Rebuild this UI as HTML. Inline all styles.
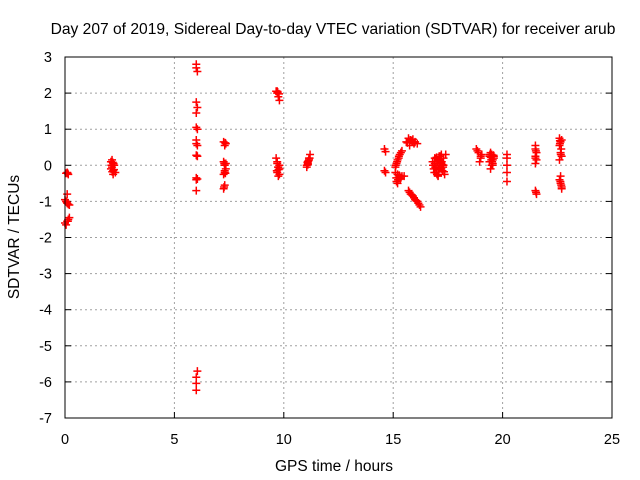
<!DOCTYPE html>
<html><head><meta charset="utf-8"><style>
html,body{margin:0;padding:0;background:#fff}
svg{display:block;font-family:"Liberation Sans",sans-serif}
</style></head><body>
<svg id="c" width="640" height="480" viewBox="0 0 640 480">
<text x="333" y="34" font-size="15.6" text-anchor="middle" fill="#000">Day 207 of 2019, Sidereal Day-to-day VTEC variation (SDTVAR) for receiver arub</text>
<text x="334" y="471" font-size="15.5" text-anchor="middle">GPS time / hours</text>
<text transform="translate(19,237) rotate(-90)" font-size="15.5" text-anchor="middle">SDTVAR / TECUs</text>
<g id="grid"></g><g id="ticks"></g><g id="pts"></g>
<rect x="65" y="57" width="547" height="361" fill="none" stroke="#000" stroke-width="1"/>
</svg>
<script>
const xTicks=[0,5,10,15,20,25];
const yTicks=[3,2,1,0,-1,-2,-3,-4,-5,-6,-7];
const hours=[0.05,0.1,0.15,0.1,0.0,0.05,0.1,0.15,0.2,0.0,0.05,0.1,0.15,0.2,0.12,0.08,0.13,
2.1,2.15,2.2,2.25,2.15,2.2,2.3,2.1,2.2,2.12,2.18,2.24,2.16,2.22,
6.0,6.0,6.05,6.0,6.05,6.0,6.0,6.05,6.0,6.0,6.05,6.0,6.05,6.0,6.0,6.0,6.05,6.0,6.0,6.0,6.05,6.02,
7.25,7.3,7.35,7.25,7.3,7.35,7.3,7.25,7.35,7.3,7.25,7.32,7.28,7.3,7.27,7.33,
9.65,9.7,9.75,9.8,9.7,9.65,9.7,9.75,9.8,9.7,9.75,9.8,9.72,9.78,9.68,9.74,9.8,9.7,9.76,
11.05,11.1,11.15,11.2,11.1,11.15,11.05,11.08,11.12,11.18,11.1,
14.6,14.65,14.6,14.65,
15.1,15.15,15.2,15.25,15.3,15.35,15.4,15.2,15.25,15.3,15.15,15.1,15.2,15.35,15.4,15.5,15.12,15.18,15.22,15.28,15.14,15.26,15.32,
15.6,15.7,15.8,15.9,16.0,16.1,15.75,15.85,15.95,15.65,15.78,15.88,15.98,
15.7,15.8,15.9,16.0,16.1,16.2,16.25,15.75,15.85,15.95,16.05,16.15,
16.8,16.9,17.0,17.1,17.2,17.3,17.4,16.85,16.95,17.05,17.15,17.25,17.35,16.9,17.0,17.1,17.2,17.3,17.0,17.1,17.2,16.82,16.92,17.02,17.12,17.22,17.32,16.88,16.98,17.08,17.18,17.28,16.95,17.05,17.15,17.25,
18.8,18.9,19.0,18.95,19.05,18.85,19.0,
19.4,19.45,19.5,19.55,19.6,19.5,19.45,19.55,19.4,19.6,19.42,19.48,19.52,19.58,19.46,19.54,
20.2,20.2,20.2,20.2,20.2,
21.5,21.5,21.55,21.5,21.55,21.5,21.5,21.55,21.52,21.5,21.53,
22.6,22.65,22.7,22.6,22.65,22.7,22.6,22.65,22.6,22.65,22.7,22.7,22.62,22.68,22.64,22.66,22.62,22.68];
const values=[-0.22,-0.2,-0.25,-0.8,-0.95,-1.0,-1.05,-1.08,-1.1,-1.6,-1.65,-1.55,-1.5,-1.45,-0.22,-1.02,-1.55,
0.1,0.15,0.05,0.0,-0.05,-0.15,-0.2,-0.1,-0.25,0.0,0.08,-0.12,-0.18,0.05,
2.8,2.7,2.6,1.75,1.6,1.45,1.05,1.0,0.7,0.6,0.55,0.28,0.25,-0.35,-0.4,-0.7,-5.7,-5.87,-6.04,-6.23,-0.38,0.27,
0.65,0.55,0.6,0.1,0.0,-0.1,-0.2,-0.25,0.05,-0.55,-0.65,0.62,0.05,-0.15,-0.6,-0.22,
2.05,2.0,1.9,1.8,2.05,0.2,0.1,-0.05,-0.1,-0.2,-0.3,0.0,2.03,1.98,-0.15,-0.05,-0.25,0.05,-0.12,
0.0,0.1,0.2,0.3,0.05,0.15,-0.05,0.08,0.12,0.2,0.02,
0.45,0.38,-0.15,-0.2,
-0.05,0.05,0.15,0.2,0.3,0.35,0.4,-0.25,-0.35,-0.3,-0.45,-0.2,-0.5,-0.35,-0.3,-0.3,0.0,0.1,-0.4,-0.28,-0.35,0.25,-0.38,
0.65,0.75,0.7,0.72,0.65,0.6,0.55,0.68,0.6,0.62,0.7,0.65,0.63,
-0.7,-0.8,-0.85,-0.95,-1.0,-1.1,-1.15,-0.75,-0.82,-0.9,-0.98,-1.05,
0.1,0.2,0.0,0.25,0.05,0.2,0.3,-0.1,-0.2,-0.3,0.1,-0.15,-0.25,0.05,-0.05,0.15,-0.1,0.0,-0.25,0.15,0.3,0.0,-0.05,0.12,-0.08,0.1,-0.18,-0.2,0.22,-0.12,0.08,-0.05,0.18,-0.28,0.25,0.02,
0.45,0.35,0.2,0.1,0.3,0.4,0.25,
0.25,0.35,0.3,0.15,0.25,0.0,-0.1,0.05,0.1,0.2,0.3,0.15,0.1,0.28,0.22,0.0,
0.3,0.2,0.0,-0.2,-0.45,
0.55,0.45,0.35,0.25,0.15,0.05,-0.7,-0.8,0.4,0.2,-0.75,
0.75,0.65,0.7,0.55,0.35,0.25,0.15,-0.3,-0.4,-0.5,-0.6,-0.65,0.6,0.45,-0.45,0.3,0.68,-0.55];
const NS='http://www.w3.org/2000/svg';
const X0=65,X1=612,Y0=418,Y1=57;
function sx(h){return X0+(h-0)/(25-0)*(X1-X0);}
function sy(v){return Y0-(v-(-7))/(3-(-7))*(Y0-Y1);}
function mk(tag,attrs,parent){const e=document.createElementNS(NS,tag);for(const k in attrs)e.setAttribute(k,attrs[k]);parent.appendChild(e);return e;}
const grid=document.getElementById('grid'),ticks=document.getElementById('ticks'),pts=document.getElementById('pts');
xTicks.forEach(t=>{const x=sx(t);
 if(t>0&&t<25){const g=mk('line',{x1:x,x2:x,y1:Y1,y2:Y0,stroke:'#a0a0a0','stroke-dasharray':'2,3'},grid);
 
 }
 const tk=mk('line',{x1:x,x2:x,y1:Y0,y2:Y0-6,stroke:'#000'},ticks);
 
 
 const tt=mk('text',{x:x,y:444,'font-size':14.5,'text-anchor':'middle'},ticks);tt.textContent=t;
 
 
});
yTicks.forEach(t=>{const y=sy(t);
 if(t<3&&t>-7){const g=mk('line',{x1:X0,x2:X1,y1:y,y2:y,stroke:'#a0a0a0','stroke-dasharray':'2,3'},grid);
 
 }
 const tk=mk('line',{x1:X0,x2:X0+6,y1:y,y2:y,stroke:'#000'},ticks);
 
 
 const tk2=mk('line',{x1:X1,x2:X1-6,y1:y,y2:y,stroke:'#000'},ticks);
 
 
 const tt=mk('text',{x:52,y:y+5,'font-size':14.5,'text-anchor':'end'},ticks);tt.textContent=t;
 
 
});
hours.forEach((h,i)=>{const x=sx(h),y=sy(values[i]);
 const p=mk('path',{d:`M${x-4},${y}H${x+4}M${x},${y-4}V${y+4}`,stroke:'#ff0000','stroke-width':1.5,fill:'none'},pts);
 
 
});
</script>
</body></html>
